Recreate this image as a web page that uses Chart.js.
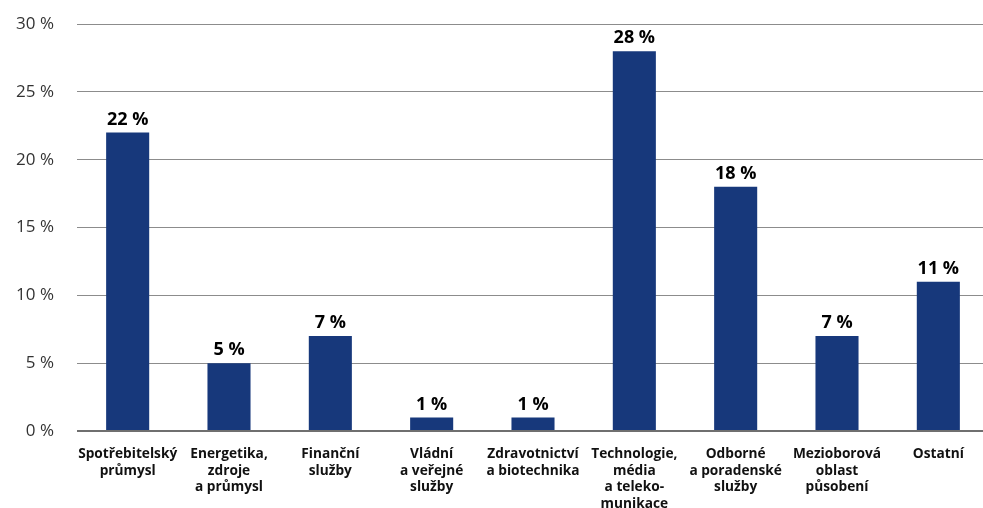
<!DOCTYPE html>
<html lang="cs">
<head>
<meta charset="utf-8">
<title>Podíl podle odvětví</title>
<script src="https://cdn.jsdelivr.net/npm/chart.js@4.4.1/dist/chart.umd.min.js"></script>
<style>
  html, body { margin: 0; padding: 0; background: #fff; overflow: hidden; }
  #wrap { width: 989px; height: 508px; }
</style>
</head>
<body>
<div id="wrap"><canvas id="sectors"></canvas></div>
<script>
// Sectors (multi-line labels) and their shares in percent
const sectors = [
    ["Spotřebitelský", "průmysl"],
    ["Energetika,", "zdroje", "a průmysl"],
    ["Finanční", "služby"],
    ["Vládní", "a veřejné", "služby"],
    ["Zdravotnictví", "a biotechnika"],
    ["Technologie,", "média", "a teleko-", "munikace"],
    ["Odborné", "a poradenské", "služby"],
    ["Mezioborová", "oblast", "působení"],
    ["Ostatní"]
];
const shares = [22, 5, 7, 1, 1, 28, 18, 7, 11];
const yTicks = [0, 5, 10, 15, 20, 25, 30];

const barColor = "#17387b";
const fontFamily = "'Open Sans', 'Noto Sans', sans-serif";

// Writes "NN %" above each bar
const valueLabels = {
    id: "valueLabels",
    afterDatasetsDraw(chart) {
        const ctx = chart.ctx;
        const meta = chart.getDatasetMeta(0);
        ctx.save();
        ctx.font = "bold 18px " + fontFamily;
        ctx.fillStyle = "#000";
        ctx.textAlign = "center";
        ctx.textBaseline = "bottom";
        meta.data.forEach((bar, i) => {
            ctx.fillText(shares[i] + " %", bar.x, bar.y - 4);
        });
        ctx.restore();
    }
};

// fixed axis sizes, no extra padding from label heights
const fixSize = (s, w, h) => {
    if (w) s.width = w;
    if (h) s.height = h;
    s.paddingTop = 0;
    s.paddingBottom = 0;
};

new Chart(document.getElementById("sectors"), {
    type: "bar",
    data: {
        labels: sectors,
        datasets: [{
            data: shares,
            backgroundColor: barColor,
            barPercentage: 0.425,
            categoryPercentage: 1
        }]
    },
    options: {
        responsive: true,
        maintainAspectRatio: false,
        animation: false,
        layout: { padding: { top: 24, right: 0, left: 0, bottom: 0 } },
        plugins: {
            legend: { display: false },
            tooltip: { enabled: false }
        },
        scales: {
            x: {
                afterFit: s => fixSize(s, 0, 77),
                grid: { display: false, drawTicks: false },
                border: { display: false },
                ticks: {
                    padding: 15,
                    maxRotation: 0,
                    autoSkip: false,
                    color: "#111",
                    font: { family: fontFamily, size: 13.7, weight: "bold", lineHeight: 1.21 }
                }
            },
            y: {
                min: 0,
                max: 30,
                afterFit: s => fixSize(s, 77, 0),
                afterBuildTicks: s => { s.ticks = yTicks.map(v => ({ value: v })); },
                grid: {
                    drawTicks: false,
                    color: c => c.index === 0 ? "#6f6f6f" : "#8c8c8c",
                    lineWidth: c => c.index === 0 ? 2 : 1
                },
                border: { display: false },
                ticks: {
                    padding: 23,
                    color: "#333",
                    font: { family: fontFamily, size: 17 },
                    callback: v => v + " %"
                }
            }
        }
    },
    plugins: [valueLabels]
});
</script>
</body>
</html>
